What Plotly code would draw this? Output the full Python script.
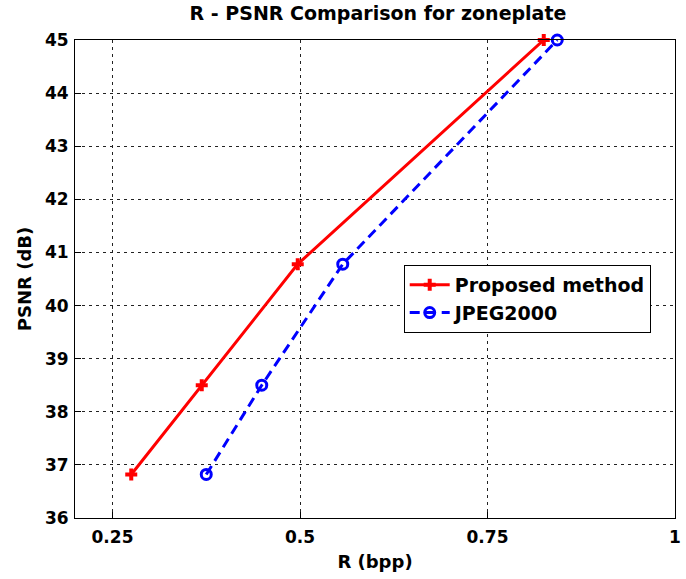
import plotly.graph_objects as go

prop_x = [0.275, 0.369, 0.497, 0.825]
prop_y = [36.82, 38.5, 40.78, 45.0]
jpeg_x = [0.375, 0.449, 0.557, 0.843]
jpeg_y = [36.82, 38.5, 40.78, 45.0]
x_ticks = [0.25, 0.5, 0.75, 1]
x_ticklabels = ["0.25", "0.5", "0.75", "1"]
y_ticks = list(range(36, 46))

FONT = "DejaVu Sans"

fig = go.Figure()
fig.add_trace(go.Scatter(
    x=prop_x, y=prop_y, mode="lines+markers", name="Proposed method",
    line=dict(color="#ff0000", width=3),
    marker=dict(symbol="cross", size=10, color="#ff0000"),
    cliponaxis=False,
))
fig.add_trace(go.Scatter(
    x=jpeg_x, y=jpeg_y, mode="lines+markers", name="JPEG2000",
    line=dict(color="#0000ff", width=3, dash="10px,6px"),
    marker=dict(symbol="circle-open", size=10, color="#0000ff", line=dict(width=3)),
    cliponaxis=False,
))

axis_common = dict(
    showline=True, linecolor="black", linewidth=1, mirror=True,
    ticks="inside", ticklen=6, tickcolor="black",
    showgrid=True, gridcolor="#222222", griddash="3px,4px", gridwidth=1,
    zeroline=False, ticklabeloverflow="allow",
    tickfont=dict(family=FONT, size=17, color="black", weight="bold"),
)

L, R, T, B = 75, 5, 40, 61
fig.update_layout(
    width=686, height=579,
    margin=dict(l=L, r=R, t=T, b=B),
    paper_bgcolor="white", plot_bgcolor="white",
    font=dict(family=FONT, color="black", weight="bold"),
    title=dict(text="R - PSNR Comparison for zoneplate",
               x=(L + (686 - R)) / 2 / 686, xanchor="center",
               y=1 - 13 / 579, yanchor="middle",
               font=dict(size=19, family=FONT, color="black", weight="bold")),
    xaxis=dict(range=[0.2, 1], tickvals=x_ticks, ticktext=x_ticklabels,
               ticklabelstandoff=4,
               title=dict(text="R (bpp)", standoff=8, font=dict(size=18, family=FONT, weight="bold")),
               **axis_common),
    yaxis=dict(range=[36, 45], tickvals=y_ticks, ticklabelstandoff=2,
               title=dict(text="PSNR (dB)", standoff=8, font=dict(size=18, family=FONT, weight="bold")),
               **axis_common),
    legend=dict(x=(407 - L) / (686 - L - R), y=(579 - B - 265) / (579 - T - B),
                xanchor="left", yanchor="top",
                bgcolor="white", bordercolor="black", borderwidth=1,
                font=dict(size=19, family=FONT, color="black", weight="bold"),
                itemwidth=40, tracegroupgap=0),
    showlegend=True,
)

fig.write_html("out.html")
